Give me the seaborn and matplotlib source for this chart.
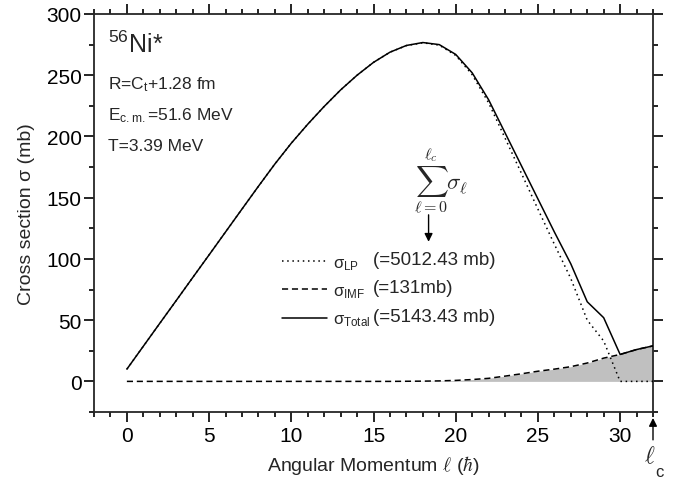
import numpy as np
import pandas as pd
import matplotlib
matplotlib.use("Agg")
import matplotlib.pyplot as plt
import seaborn as sns

# ---- data ----
ell = list(range(0, 33))
sigma_total = [10, 28.7, 47.4, 66, 84.7, 103.3, 122, 140.7, 159.3, 177.5,
               194.5, 210, 224.5, 238, 250, 260.5, 268.8, 274.3, 276.7, 275,
               267, 252, 230, 203, 176, 149, 122, 96, 65, 52,
               22, 26, 29]
sigma_imf = [0, 0, 0, 0, 0, 0, 0, 0, 0, 0,
             0, 0, 0, 0, 0, 0, 0, 0.1, 0.2, 0.4,
             0.8, 1.5, 2.5, 4.3, 6.2, 8.3, 10, 12, 15, 19,
             22, 26, 29]
sigma_lp = [10, 28.7, 47.4, 66, 84.7, 103.3, 122, 140.7, 159.3, 177.5,
            194.5, 210, 224.5, 238, 250, 260.5, 268.8, 274.2, 276.5, 274.6,
            266.2, 250.5, 227.5, 198.7, 169.8, 140.7, 112, 84, 50, 33,
            0, 0, 0]

series_labels = [r"σ$_{\mathrm{LP}}$", r"σ$_{\mathrm{IMF}}$", r"σ$_{\mathrm{Total}}$"]
series_sums = ["(=5012.43 mb)", "(=131mb)", "(=5143.43 mb)"]

sns.set_style("ticks")
plt.rcParams["font.family"] = ["Liberation Sans", "DejaVu Sans"]
plt.rcParams["mathtext.fontset"] = "custom"
plt.rcParams["mathtext.rm"] = "Liberation Sans"
plt.rcParams["mathtext.it"] = "Liberation Sans:italic"
plt.rcParams["mathtext.bf"] = "Liberation Sans:bold"

fig = plt.figure(figsize=(6.73, 4.81), dpi=100)
ax = fig.add_axes([94 / 673, 1 - 413 / 481, (653 - 94) / 673, (413 - 15) / 481])

df_lp = pd.DataFrame({"l": ell, "s": sigma_lp})
df_imf = pd.DataFrame({"l": ell, "s": sigma_imf})
df_tot = pd.DataFrame({"l": ell, "s": sigma_total})

ax.fill_between(df_imf["l"], 0, df_imf["s"], color="#c0c0c0", linewidth=0, zorder=1)

sns.lineplot(data=df_lp, x="l", y="s", ax=ax, color="black", lw=1.1,
             linestyle=(0, (1, 2.4)), label=series_labels[0], zorder=3)
sns.lineplot(data=df_imf, x="l", y="s", ax=ax, color="black", lw=1.1,
             linestyle=(0, (4, 2.5)), label=series_labels[1], zorder=3)
sns.lineplot(data=df_tot, x="l", y="s", ax=ax, color="black", lw=1.1,
             linestyle="-", label=series_labels[2], zorder=3)

ax.set_xlim(-2, 32)
ax.set_ylim(-25, 300)
ax.set_xticks(range(0, 31, 5))
ax.set_xticks(range(-2, 33), minor=True)
ax.set_yticks(range(0, 301, 50))
ax.set_yticks(range(-25, 301, 25), minor=True)

for s in ax.spines.values():
    s.set_linewidth(1.3)
    s.set_visible(True)
ax.tick_params(which="both", direction="out", top=True, right=True,
               width=1.2, colors="black", labelsize=15)
ax.tick_params(which="major", length=7, pad=3)
ax.tick_params(which="minor", length=3.5)
ax.tick_params(axis="y", which="major", pad=2)

ax.set_xlabel(r"Angular Momentum $\ell$ ($\hbar$)", fontsize=14,
              math_fontfamily="cm", labelpad=6)
ax.set_ylabel("Cross section σ (mb)", fontsize=14, labelpad=8)

leg = ax.legend(loc="upper left", bbox_to_anchor=(0.31, 0.4325), frameon=False,
                fontsize=12, handlelength=2.7, labelspacing=0.7, handletextpad=0.35)

# align the summed values in a column next to the legend rows
fig.canvas.draw()
renderer = fig.canvas.get_renderer()
x_col = (373 - 94) / 559
for h, val in zip(leg.legend_handles, series_sums):
    bb = h.get_window_extent(renderer)
    yc = (bb.y0 + bb.y1) / 2
    y_ax = ax.transAxes.inverted().transform((0, yc))[1]
    ax.text(x_col, y_ax + 0.004, val, transform=ax.transAxes, fontsize=13.5,
            ha="left", va="center")

# annotations
ax.text(0.025, 0.925, r"$^{56}$Ni*", transform=ax.transAxes, fontsize=18,
        va="center", ha="left")
ax.text(0.025, 0.824, r"R=C$_\mathrm{t}$+1.28 fm", transform=ax.transAxes, fontsize=12.5,
        va="center", ha="left")
ax.text(0.025, 0.748, r"E$_\mathrm{c.m.}$=51.6 MeV", transform=ax.transAxes, fontsize=12.5,
        va="center", ha="left")
ax.text(0.025, 0.669, r"T=3.39 MeV", transform=ax.transAxes, fontsize=12.5,
        va="center", ha="left")

ax.text(17.45, 164, r"$\sum_{\ell=0}^{\ell_c}\sigma_\ell$", fontsize=16.5,
        math_fontfamily="cm", ha="left", va="center")
ax.annotate("", xy=(18.35, 114), xytext=(18.35, 136),
            arrowprops=dict(arrowstyle="-|>", color="black", lw=1.0,
                            mutation_scale=12, shrinkA=0, shrinkB=0))

ax.annotate("", xy=(32, -0.015), xytext=(32, -0.07),
            xycoords=("data", "axes fraction"), textcoords=("data", "axes fraction"),
            arrowprops=dict(arrowstyle="-|>", color="black", lw=1.0,
                            mutation_scale=12, shrinkA=0, shrinkB=0),
            annotation_clip=False)
ax.text(31.8, -0.11, r"$\ell$", transform=ax.get_xaxis_transform(), fontsize=17,
        math_fontfamily="cm", ha="center", va="center", clip_on=False)
ax.text(32.4, -0.15, "c", transform=ax.get_xaxis_transform(), fontsize=12,
        ha="center", va="center", clip_on=False)

fig.savefig("out.png", dpi=100)
